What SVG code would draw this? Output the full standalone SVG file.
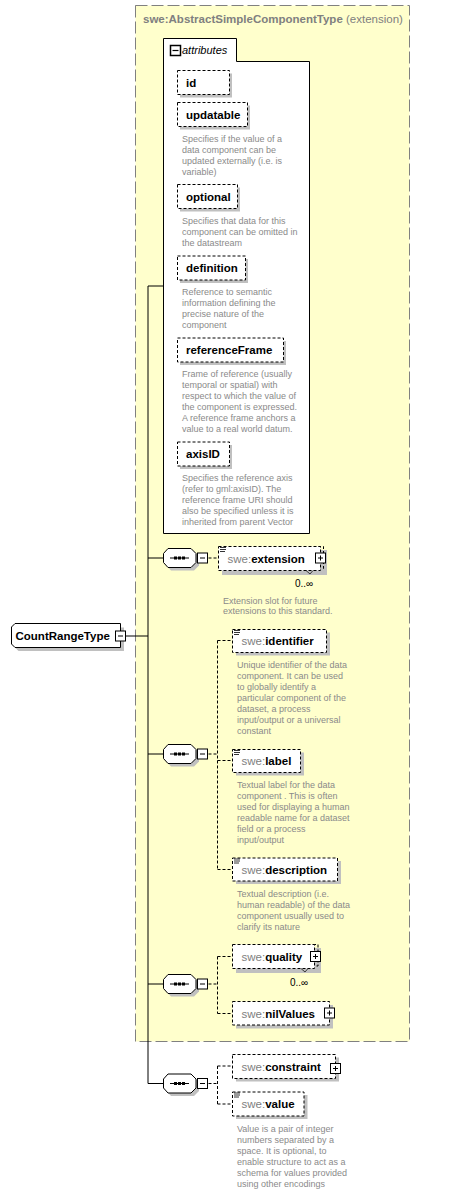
<svg xmlns="http://www.w3.org/2000/svg" xmlns:xlink="http://www.w3.org/1999/xlink" width="452" height="1193" viewBox="0 0 452 1193">
<style>
.lbl{font-family:"Liberation Sans",Arial,sans-serif;font-size:11.5px;font-weight:bold;fill:#000}
.pre{font-weight:normal;fill:#808080}
.desc{font-family:"Liberation Sans",Arial,sans-serif;font-size:9px;fill:#8a8a8a}
.occ{font-family:"Liberation Sans",Arial,sans-serif;font-size:10px;fill:#000}
.sh{fill:#c0c0c0}
.dbox{fill:#fff;stroke:#000;stroke-dasharray:3,2}
.conn{stroke:#000;fill:none}
.dconn{stroke:#000;stroke-dasharray:3,2;fill:none}
.ico{stroke:#000;stroke-width:0.8}
</style>
<defs>
<g id="plus"><rect x="0.5" y="0.5" width="10" height="10" fill="#fff" stroke="#000"/><path d="M3,5.5H8M5.5,3V8" stroke="#000"/></g>
<g id="minus"><rect x="0.5" y="0.5" width="10" height="10" fill="#fff" stroke="#000"/><path d="M3,5.5H8" stroke="#000"/></g>
<g id="seq">
<path class="sh" d="M8,3.5H31L36,8.5V17.5L31,22.5H8L3.5,17.5V8.5Z"/>
<path d="M5,0.5H28L33,5.5V14.5L28,19.5H5L0.5,14.5V5.5Z" fill="#fff" stroke="#000"/>
<path d="M7,10H26" stroke="#000"/>
<rect x="11" y="8.5" width="3" height="3"/><rect x="15" y="8.5" width="3" height="3"/><rect x="19" y="8.5" width="3" height="3"/>
<use xlink:href="#minus" x="34" y="4.5"/>
</g>
<path id="icon" class="ico" d="M0,0.5H6M0,2.5H6M0,4.5H5"/>
</defs>

<g id="ext">
<rect x="135.5" y="5.5" width="274" height="1036" fill="#ffffcc" stroke="#808080" stroke-dasharray="12,4"/>
<text x="143" y="23" class="lbl" style="fill:#808080">swe:AbstractSimpleComponentType<tspan style="font-weight:normal"> (extension)</tspan></text>
</g>

<g id="connectors">
<path class="conn" d="M126,636H148M148,286V1083.5M148,286H163.5M148,558H163M148,754H163M148,984H163M148,1083.5H163"/>
<path class="dconn" d="M208.5,558H218M208.5,754H217.5M217.5,640.5V869.5M217.5,640.5H232.5M217.5,760.5H232.5M217.5,869.5H232.5"/>
<path class="dconn" d="M208.5,984H217.5M217.5,956.5V1013.5M217.5,956.5H232.5M217.5,1013.5H232.5"/>
<path class="dconn" d="M208.5,1083.5H217.5M217.5,1066V1104M217.5,1066H232.5M217.5,1104H232.5"/>
</g>

<g id="attributes">
<path d="M163.5,533.5V38.5H236.5V61.5H309.5V533.5Z" fill="#fff" stroke="#000"/>
<rect x="170.5" y="45.5" width="10" height="10" fill="#fff" stroke="#000" stroke-width="1.5"/>
<path d="M172.5,50.5H178.5" stroke="#000" stroke-width="1.2"/>
<text x="182" y="54" font-family="Liberation Sans,Arial,sans-serif" font-size="11" font-style="italic">attributes</text>
</g>

<g id="attr-id">
<rect class="sh" x="180" y="73.5" width="52" height="24"/>
<rect class="dbox" x="177.5" y="70.5" width="52" height="24"/>
<text class="lbl" x="186" y="86.5">id</text>
</g>
<g id="attr-updatable">
<rect class="sh" x="180" y="105.5" width="70" height="24"/>
<rect class="dbox" x="177.5" y="102.5" width="70" height="24"/>
<text class="lbl" x="186" y="118.5">updatable</text>
<text class="desc"><tspan x="182" y="142">Specifies if the value of a</tspan><tspan x="182" y="153">data component can be</tspan><tspan x="182" y="164">updated externally (i.e. is</tspan><tspan x="182" y="175">variable)</tspan></text>
</g>
<g id="attr-optional">
<rect class="sh" x="180" y="187.5" width="60" height="24"/>
<rect class="dbox" x="177.5" y="184.5" width="60" height="24"/>
<text class="lbl" x="186" y="200.5">optional</text>
<text class="desc"><tspan x="182" y="224">Specifies that data for this</tspan><tspan x="182" y="235">component can be omitted in</tspan><tspan x="182" y="246">the datastream</tspan></text>
</g>
<g id="attr-definition">
<rect class="sh" x="180" y="259" width="68" height="24"/>
<rect class="dbox" x="177.5" y="256" width="68" height="24"/>
<text class="lbl" x="186" y="272">definition</text>
<text class="desc"><tspan x="182" y="295">Reference to semantic</tspan><tspan x="182" y="306">information defining the</tspan><tspan x="182" y="317">precise nature of the</tspan><tspan x="182" y="328">component</tspan></text>
</g>
<g id="attr-referenceFrame">
<rect class="sh" x="180" y="341" width="106" height="24"/>
<rect class="dbox" x="177.5" y="338" width="106" height="24"/>
<text class="lbl" x="186" y="354">referenceFrame</text>
<text class="desc"><tspan x="182" y="377">Frame of reference (usually</tspan><tspan x="182" y="388">temporal or spatial) with</tspan><tspan x="182" y="399">respect to which the value of</tspan><tspan x="182" y="410">the component is expressed.</tspan><tspan x="182" y="421">A reference frame anchors a</tspan><tspan x="182" y="432">value to a real world datum.</tspan></text>
</g>
<g id="attr-axisID">
<rect class="sh" x="180" y="445" width="52" height="24"/>
<rect class="dbox" x="177.5" y="442" width="52" height="24"/>
<text class="lbl" x="186" y="458">axisID</text>
<text class="desc"><tspan x="182" y="481">Specifies the reference axis</tspan><tspan x="182" y="492">(refer to gml:axisID). The</tspan><tspan x="182" y="503">reference frame URI should</tspan><tspan x="182" y="514">also be specified unless it is</tspan><tspan x="182" y="525">inherited from parent Vector</tspan></text>
</g>

<g id="CountRangeType">
<path class="sh" d="M18.5,627.5H124V651H18.5L15,647.5V631Z"/>
<path d="M15,623.5H120.5V647.5H15L11.5,644V627Z" fill="#fff" stroke="#000"/>
<text class="lbl" x="15.5" y="640">CountRangeType</text>
<use xlink:href="#minus" x="115" y="630.5"/>
</g>

<g id="seq1"><use xlink:href="#seq" x="163" y="548"/></g>
<g id="seq2"><use xlink:href="#seq" x="163" y="744"/></g>
<g id="seq3"><use xlink:href="#seq" x="163" y="974"/></g>
<g id="seq4"><use xlink:href="#seq" x="163" y="1073.5"/></g>

<g id="el-extension">
<rect class="sh" x="222" y="550" width="105" height="25"/>
<path class="dconn" d="M318,546.5H323.5V568.5H320.5"/>
<rect class="dbox" x="218.5" y="546.5" width="102" height="24"/>
<use xlink:href="#icon" x="220" y="547"/>
<text class="lbl" x="227.5" y="562.5"><tspan class="pre">swe:</tspan>extension</text>
<use xlink:href="#plus" x="315" y="552.5"/>
<path d="M306,570.5L310,574L313,570.5" fill="none" stroke="#000" stroke-width="0.7"/>
<text class="occ" x="295" y="587">0..∞</text>
<text class="desc"><tspan x="223" y="603.5">Extension slot for future</tspan><tspan x="223" y="614">extensions to this standard.</tspan></text>
</g>

<g id="el-identifier">
<rect class="sh" x="236" y="632.5" width="94" height="23"/>
<rect class="dbox" x="232.5" y="629.5" width="94" height="23"/>
<use xlink:href="#icon" x="234" y="630"/>
<text class="lbl" x="241.5" y="645"><tspan class="pre">swe:</tspan>identifier</text>
<text class="desc"><tspan x="237" y="667.5">Unique identifier of the data</tspan><tspan x="237" y="678.5">component. It can be used</tspan><tspan x="237" y="689.5">to globally identify a</tspan><tspan x="237" y="700.5">particular component of the</tspan><tspan x="237" y="711.5">dataset, a process</tspan><tspan x="237" y="722.5">input/output or a universal</tspan><tspan x="237" y="733.5">constant</tspan></text>
</g>

<g id="el-label">
<rect class="sh" x="236" y="752.5" width="68" height="23"/>
<rect class="dbox" x="232.5" y="749.5" width="68" height="23"/>
<use xlink:href="#icon" x="234" y="750"/>
<text class="lbl" x="241.5" y="765"><tspan class="pre">swe:</tspan>label</text>
<text class="desc"><tspan x="237" y="787.5">Textual label for the data</tspan><tspan x="237" y="798.5">component . This is often</tspan><tspan x="237" y="809.5">used for displaying a human</tspan><tspan x="237" y="820.5">readable name for a dataset</tspan><tspan x="237" y="831.5">field or a process</tspan><tspan x="237" y="842.5">input/output</tspan></text>
</g>

<g id="el-description">
<rect class="sh" x="236" y="861" width="105" height="23"/>
<rect class="dbox" x="232.5" y="858" width="105" height="23"/>
<use xlink:href="#icon" x="234" y="858.5"/>
<text class="lbl" x="241.5" y="873.5"><tspan class="pre">swe:</tspan>description</text>
<text class="desc"><tspan x="237" y="896.5">Textual description (i.e.</tspan><tspan x="237" y="907.5">human readable) of the data</tspan><tspan x="237" y="918.5">component usually used to</tspan><tspan x="237" y="929.5">clarify its nature</tspan></text>
</g>

<g id="el-quality">
<rect class="sh" x="236" y="948" width="85" height="25"/>
<path class="dconn" d="M313,944.5H318V966H315"/>
<rect class="dbox" x="232.5" y="944.5" width="82" height="24"/>
<text class="lbl" x="241.5" y="960.5"><tspan class="pre">swe:</tspan>quality</text>
<use xlink:href="#plus" x="310" y="951"/>
<path d="M301,968.5L305,972L308,968.5" fill="none" stroke="#000" stroke-width="0.7"/>
<text class="occ" x="290" y="986">0..∞</text>
</g>

<g id="el-nilValues">
<rect class="sh" x="236" y="1005" width="97" height="23.5"/>
<rect class="dbox" x="232.5" y="1001.5" width="97" height="23.5"/>
<text class="lbl" x="241.5" y="1017.5"><tspan class="pre">swe:</tspan>nilValues</text>
<use xlink:href="#plus" x="324" y="1007.5"/>
</g>

<g id="el-constraint">
<rect class="sh" x="236" y="1057.5" width="103" height="24"/>
<rect class="dbox" x="232.5" y="1054.5" width="103" height="24"/>
<text class="lbl" x="241.5" y="1070.5"><tspan class="pre">swe:</tspan>constraint</text>
<use xlink:href="#plus" x="330" y="1063"/>
</g>

<g id="el-value">
<rect class="sh" x="236" y="1095" width="71.5" height="24"/>
<rect class="dbox" x="232.5" y="1092" width="71.5" height="24"/>
<use xlink:href="#icon" x="234" y="1092.5"/>
<text class="lbl" x="241.5" y="1108"><tspan class="pre">swe:</tspan>value</text>
<text class="desc"><tspan x="237" y="1131.5">Value is a pair of integer</tspan><tspan x="237" y="1142.5">numbers separated by a</tspan><tspan x="237" y="1153.5">space. It is optional, to</tspan><tspan x="237" y="1164.5">enable structure to act as a</tspan><tspan x="237" y="1175.5">schema for values provided</tspan><tspan x="237" y="1186.5">using other encodings</tspan></text>
</g>
</svg>
